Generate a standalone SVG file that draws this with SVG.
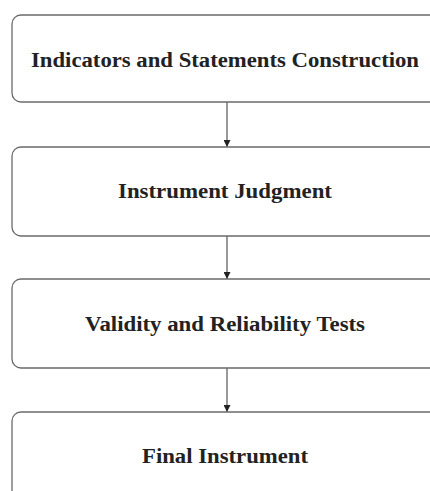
<svg xmlns="http://www.w3.org/2000/svg" width="430" height="491" viewBox="0 0 430 491">
<defs>
<style>
.box{fill:#fff;stroke:#6a6a6a;stroke-width:1.3}
.lbl{font-family:"Liberation Serif","Times New Roman",serif;font-weight:bold;font-size:20px;fill:#222;text-anchor:middle}
.conn{stroke:#555;stroke-width:1.2;fill:none}
</style>
<marker id="ah" viewBox="0 0 10 10" refX="10" refY="5" markerWidth="7" markerHeight="7" markerUnits="userSpaceOnUse" orient="auto">
<path d="M0,0 L10,5 L0,10 z" fill="#222"/>
</marker>
</defs>
<rect width="430" height="491" fill="#fff"/>
<g id="connectors">
<line class="conn" x1="227" y1="102" x2="227" y2="147" marker-end="url(#ah)"/>
<line class="conn" x1="227" y1="236" x2="227" y2="279" marker-end="url(#ah)"/>
<line class="conn" x1="227" y1="368" x2="227" y2="412" marker-end="url(#ah)"/>
</g>
<g id="n1">
<rect class="box" x="12" y="15" width="430" height="87" rx="9"/>
<text class="lbl" x="225" y="67" textLength="388" lengthAdjust="spacingAndGlyphs">Indicators and Statements Construction</text>
</g>
<g id="n2">
<rect class="box" x="12" y="147" width="430" height="89" rx="9"/>
<text class="lbl" x="225" y="198" textLength="214" lengthAdjust="spacingAndGlyphs">Instrument Judgment</text>
</g>
<g id="n3">
<rect class="box" x="12" y="279" width="430" height="89" rx="9"/>
<text class="lbl" x="225" y="331" textLength="280" lengthAdjust="spacingAndGlyphs">Validity and Reliability Tests</text>
</g>
<g id="n4">
<rect class="box" x="12" y="412" width="430" height="100" rx="9"/>
<text class="lbl" x="225" y="463" textLength="166" lengthAdjust="spacingAndGlyphs">Final Instrument</text>
</g>
</svg>
